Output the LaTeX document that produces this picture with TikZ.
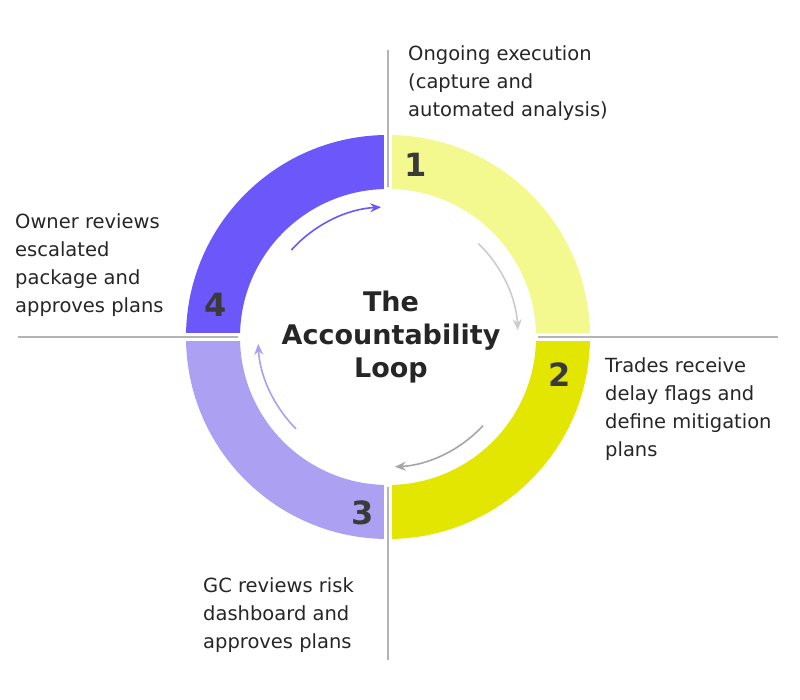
\documentclass[tikz,border=0pt]{standalone}
\usepackage{fontspec}
\setmainfont{DejaVu Sans}
\usetikzlibrary{arrows.meta}
\definecolor{qone}{HTML}{F3F98F}
\definecolor{qtwo}{HTML}{E2E600}
\definecolor{qthree}{HTML}{ABA0F2}
\definecolor{qfour}{HTML}{6B57FA}
\definecolor{numgray}{HTML}{3A3A3A}
\definecolor{axisgray}{HTML}{B4B4B4}
\begin{document}
\begin{tikzpicture}[x=1pt, y=1pt,
	label/.style={anchor=north west, align=left, font=\fontsize{19.5}{28}\selectfont, inner sep=0pt, text=black!85},
	num/.style={font=\fontsize{32}{32}\selectfont\bfseries, text=numgray, inner sep=0pt},
	loop/.style={-{Stealth[length=11pt,width=9pt]}, line width=1.6pt}]
	\useasboundingbox (-388,-363) rectangle (412,337);

	% ring quadrants
	\fill[qone] (0,202) arc[start angle=90, end angle=0, radius=202] -- (148,0) arc[start angle=0, end angle=90, radius=148] -- cycle;
	\fill[qtwo] (202,0) arc[start angle=0, end angle=-90, radius=202] -- (0,-148) arc[start angle=-90, end angle=0, radius=148] -- cycle;
	\fill[qthree] (0,-202) arc[start angle=-90, end angle=-180, radius=202] -- (-148,0) arc[start angle=180, end angle=270, radius=148] -- cycle;
	\fill[qfour] (-202,0) arc[start angle=180, end angle=90, radius=202] -- (0,148) arc[start angle=90, end angle=180, radius=148] -- cycle;
	\draw[white, line width=8pt] (0,-205) -- (0,-146) (0,146) -- (0,205) (-205,0) -- (-146,0) (146,0) -- (205,0);

	% axes
	\draw[axisgray, line width=1.2pt] (0,287) -- (0,150) (0,-150) -- (0,-323);
	\draw[axisgray, line width=1.2pt] (-370,0) -- (-150,0) (150,0) -- (390,0);

	% numbers
	\node[num] (n1) at (28,172) {1};
	\node[num] (n2) at (172,-38) {2};
	\node[num] (n3) at (-25,-176) {3};
	\node[num] (n4) at (-172,32) {4};

	% loop arrows
	\draw[loop, black!20] (46:130) arc[start angle=46, end angle=3, radius=130];
	\draw[loop, black!35] (-43:130) arc[start angle=-43, end angle=-87, radius=130];
	\draw[loop, qthree] (-135:130) arc[start angle=-135, end angle=-177, radius=130];
	\draw[loop, qfour] (138:130) arc[start angle=138, end angle=93, radius=130];

	% title
	\node[align=center, font=\fontsize{27}{33}\selectfont\bfseries, text=black!85] (title) at (3,0) {The\\Accountability\\Loop};

	% step labels
	\node[label] (ongoing) at (20,292) {Ongoing execution\\(capture and\\automated analysis)};
	\node[label] (trades) at (217,-20) {Trades receive\\delay flags and\\define mitigation\\plans};
	\node[label] (gc) at (-185,-240) {GC reviews risk\\dashboard and\\approves plans};
	\node[label] (owner) at (-373,124) {Owner reviews\\escalated\\package and\\approves plans};
\end{tikzpicture}
\end{document}
